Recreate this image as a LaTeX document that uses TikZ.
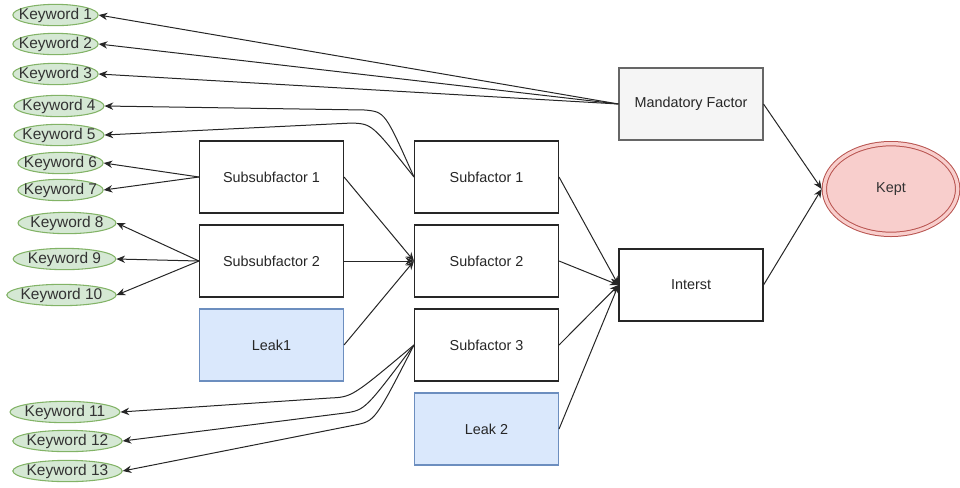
\documentclass[tikz,border=0pt]{standalone}
\usepackage{fontspec}
\setmainfont{Liberation Sans}
\definecolor{kwfill}{HTML}{D5E8D4}
\definecolor{kwline}{HTML}{82B366}
\definecolor{leakfill}{HTML}{DAE8FC}
\definecolor{leakline}{HTML}{6C8EBF}
\definecolor{keptfill}{HTML}{F8CECC}
\definecolor{keptline}{HTML}{B85450}
\definecolor{mandfill}{HTML}{F5F5F5}
\definecolor{mandline}{HTML}{666666}
\usetikzlibrary{shapes.geometric,arrows.meta}

\begin{document}
\begin{tikzpicture}[x=0.75pt,y=-0.75pt,
    font=\fontsize{10.8}{13}\selectfont,
    box/.style={draw=black!85, line width=0.8pt, rectangle, minimum width=108pt, minimum height=54pt, inner sep=0pt, text=black!85},
    kw/.style={draw=kwline, fill=kwfill, ellipse, line width=0.8pt, minimum height=16pt, inner xsep=-10pt, inner ysep=-3pt,
               text=black!80, font=\fontsize{11.6}{13}\selectfont},
    link/.style={draw=black!85, line width=0.75pt, -{Stealth[length=6.5pt,width=5.5pt]}}]
            \useasboundingbox (0,0) rectangle (960,487);

            % Keywords
            \node[kw, minimum width=64pt] (k1) at (55.5,15) {Keyword 1};
            \node[kw, minimum width=64pt] (k2) at (55.5,44) {Keyword 2};
            \node[kw, minimum width=64pt] (k3) at (55.5,74) {Keyword 3};
            \node[kw, minimum width=67.5pt] (k4) at (59,106) {Keyword 4};
            \node[kw, minimum width=67.5pt] (k5) at (59,135) {Keyword 5};
            \node[kw, minimum width=64pt] (k6) at (60.5,163) {Keyword 6};
            \node[kw, minimum width=64pt] (k7) at (60.5,190) {Keyword 7};
            \node[kw, minimum width=73.5pt] (k8) at (67,223) {Keyword 8};
            \node[kw, minimum width=77pt] (k9) at (64.5,259) {Keyword 9};
            \node[kw, minimum width=82pt] (k10) at (61.5,295) {Keyword 10};
            \node[kw, minimum width=82.5pt] (k11) at (65,412) {Keyword 11};
            \node[kw, minimum width=82pt] (k12) at (67.5,441) {Keyword 12};
            \node[kw, minimum width=82pt] (k13) at (67.5,471) {Keyword 13};

            % Subsubfactors and leaks
            \node[box] (ssf1) at (271.5,177) {Subsubfactor 1};
            \node[box] (ssf2) at (271.5,261) {Subsubfactor 2};
            \node[box, fill=leakfill, draw=leakline] (leak1) at (271.5,345) {Leak1};

            % Subfactors
            \node[box] (sf1) at (486.5,177) {Subfactor 1};
            \node[box] (sf2) at (486.5,261) {Subfactor 2};
            \node[box] (sf3) at (486.5,345) {Subfactor 3};
            \node[box, fill=leakfill, draw=leakline] (leak2) at (486.5,429) {Leak 2};

            % Factors
            \node[box, fill=mandfill, draw=mandline] (mand) at (691,104) {Mandatory Factor};
            \node[box] (inter) at (691,285) {Interst};
            \node[ellipse, draw=keptline, double=keptfill, double distance=2.5pt, fill=keptfill, line width=0.75pt,
                  minimum width=100pt, minimum height=68pt, outer sep=2pt, text=black!80] (kept) at (891,189) {Kept};

            % Keyword links
            \draw[link] (mand.west) -- (k1.east);
            \draw[link] (mand.west) -- (k2.east);
            \draw[link] (mand.west) -- (k3.east);
            \draw[link] (sf1.west) .. controls (385,112) .. (365,110) -- (k4.east);
            \draw[link] (sf1.west) .. controls (372,124) .. (352,123) -- (k5.east);
            \draw[link] (ssf1.west) -- (k6.east);
            \draw[link] (ssf1.west) -- (k7.east);
            \draw[link] (ssf2.west) -- (k8.east);
            \draw[link] (ssf2.west) -- (k9.east);
            \draw[link] (ssf2.west) -- (k10.east);
            \draw[link] (sf3.west) .. controls (352,397) .. (330,398) -- (k11.east);
            \draw[link] (sf3.west) .. controls (365,410) .. (345,413) -- (k12.east);
            \draw[link] (sf3.west) .. controls (375,421) .. (355,425) -- (k13.east);

            % Factor links
            \draw[link] (ssf1.east) -- (sf2.west);
            \draw[link] (ssf2.east) -- (sf2.west);
            \draw[link] (leak1.east) -- (sf2.west);
            \draw[link] (sf1.east) -- (inter.west);
            \draw[link] (sf2.east) -- (inter.west);
            \draw[link] (sf3.east) -- (inter.west);
            \draw[link] (leak2.east) -- (inter.west);
            \draw[link] (mand.east) -- (kept.west);
            \draw[link] (inter.east) -- (kept.west);

        \end{tikzpicture}
\end{document}
